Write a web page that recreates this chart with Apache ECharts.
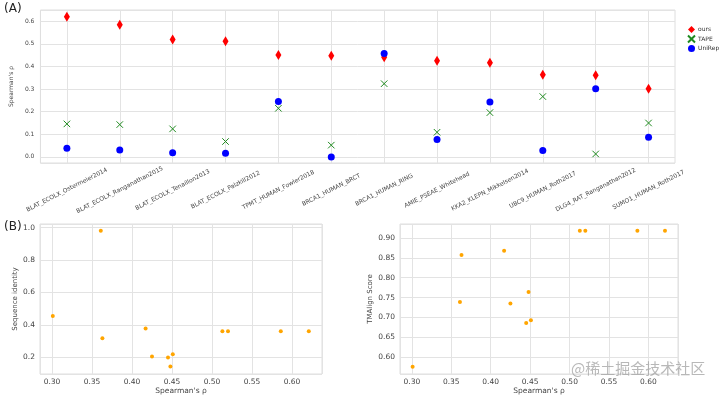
<!DOCTYPE html>
<html><head><meta charset="utf-8">
<script src="https://cdn.jsdelivr.net/npm/echarts@6/dist/echarts.min.js"></script>
<style>html,body{margin:0;padding:0;background:#fff}#c{width:720px;height:396px}</style>
</head><body><div id="c"></div>
<script>
const categories = ['BLAT_ECOLX_Ostermeier2014','BLAT_ECOLX_Ranganathan2015','BLAT_ECOLX_Tenaillon2013','BLAT_ECOLX_Palzkill2012','TPMT_HUMAN_Fowler2018','BRCA1_HUMAN_BRCT','BRCA1_HUMAN_RING','AMIE_PSEAE_Whitehead','KKA2_KLEPN_Mikkelsen2014','UBC9_HUMAN_Roth2017','DLG4_RAT_Ranganathan2012','SUMO1_HUMAN_Roth2017'];
const ours   = [0.620,0.585,0.520,0.512,0.451,0.448,0.441,0.425,0.417,0.363,0.361,0.301];
const tape   = [0.146,0.143,0.124,0.068,0.215,0.052,0.324,0.109,0.196,0.267,0.013,0.150];
const unirep = [0.038,0.031,0.018,0.016,0.245,0.000,0.457,0.077,0.243,0.028,0.301,0.087];
const spearman    = [0.301,0.361,0.363,0.417,0.425,0.445,0.448,0.451,0.513,0.520,0.586,0.621];
const seqIdentity = [0.455,0.980,0.318,0.379,0.206,0.200,0.144,0.220,0.361,0.361,0.361,0.361];
const tmScore     = [0.576,0.739,0.857,0.868,0.735,0.686,0.764,0.693,0.918,0.918,0.918,0.918];

const gridLine = {show:true, lineStyle:{color:'#e3e3e3', width:1}};
const lblColor = '#444';
const pair = (xs, ys) => xs.map((x,i)=>[x, ys[i]]);

const chart = echarts.init(document.getElementById('c'), null, {renderer:'canvas'});
chart.setOption({
  animation:false,
  backgroundColor:'#fff',
  graphic:[
    {type:'text', left:4, top:3, style:{text:'(A)', fontSize:12, fill:'#222', fontFamily:'DejaVu Sans'}},
    {type:'text', left:4, top:221, style:{text:'(B)', fontSize:12, fill:'#222', fontFamily:'DejaVu Sans'}},
    {type:'text', left:571, top:361, z:100, style:{text:'@稀土掘金技术社区', fontSize:15, fill:'rgba(160,160,160,0.75)', fontFamily:'Noto Sans CJK SC'}}
  ],
  legend:{
    left:682, top:21, orient:'vertical', itemGap:1.5, itemWidth:7, itemHeight:7,
    textStyle:{fontSize:6, color:'#333', fontFamily:'DejaVu Sans', padding:[0,0,0,-2]},
    data:['ours','TAPE','UniRep']
  },
  grid:[
    {left:38, top:10, width:637, height:153, show:true, borderColor:'#dedede', borderWidth:1},
    {left:40, top:224, width:282, height:154, show:true, borderColor:'#dedede', borderWidth:1},
    {left:400, top:224, width:278, height:154, show:true, borderColor:'#dedede', borderWidth:1}
  ],
  xAxis:[
    {type:'category', gridIndex:0, data:categories, boundaryGap:true,
     axisLine:{show:false}, axisTick:{show:false},
     splitLine:{show:true, alignWithLabel:true, lineStyle:{color:'#e3e3e3'}},
     axisLabel:{rotate:27, align:'center', verticalAlign:'middle', margin:27, interval:0,
       fontSize:6, color:lblColor, fontFamily:'DejaVu Sans'}},
    {type:'value', gridIndex:1, min:0.285, max:0.6375, splitNumber:7,
     axisLine:{show:false}, axisTick:{show:false}, splitLine:gridLine,
     axisLabel:{showMinLabel:false, showMaxLabel:false, fontSize:7.5, color:lblColor, margin:4,
       formatter:v=>v.toFixed(2), fontFamily:'DejaVu Sans'},
     name:"Spearman's ρ", nameLocation:'middle', nameGap:13,
     nameTextStyle:{fontSize:7.5, color:lblColor, fontFamily:'DejaVu Sans'}},
    {type:'value', gridIndex:2, min:0.285, max:0.6375, splitNumber:7,
     axisLine:{show:false}, axisTick:{show:false}, splitLine:gridLine,
     axisLabel:{showMinLabel:false, showMaxLabel:false, fontSize:7.5, color:lblColor, margin:4,
       formatter:v=>v.toFixed(2), fontFamily:'DejaVu Sans'},
     name:"Spearman's ρ", nameLocation:'middle', nameGap:13,
     nameTextStyle:{fontSize:7.5, color:lblColor, fontFamily:'DejaVu Sans'}}
  ],
  yAxis:[
    {type:'value', gridIndex:0, min:-0.027, max:0.65, splitNumber:7,
     axisLine:{show:false}, axisTick:{show:false}, splitLine:gridLine,
     axisLabel:{showMinLabel:false, showMaxLabel:false, fontSize:6, color:lblColor, margin:6,
       formatter:v=>v.toFixed(1), fontFamily:'DejaVu Sans'},
     name:"Spearman's ρ", nameLocation:'middle', nameGap:17,
     nameTextStyle:{fontSize:6, color:lblColor, fontFamily:'DejaVu Sans'}},
    {type:'value', gridIndex:1, min:0.098, max:1.022, splitNumber:5,
     axisLine:{show:false}, axisTick:{show:false}, splitLine:gridLine,
     axisLabel:{showMinLabel:false, showMaxLabel:false, fontSize:7.5, color:lblColor, margin:5,
       formatter:v=>v.toFixed(1), fontFamily:'DejaVu Sans'},
     name:'Sequence identity', nameLocation:'middle', nameGap:21,
     nameTextStyle:{fontSize:7, color:lblColor, fontFamily:'DejaVu Sans'}},
    {type:'value', gridIndex:2, min:0.558, max:0.935, splitNumber:7,
     axisLine:{show:false}, axisTick:{show:false}, splitLine:gridLine,
     axisLabel:{showMinLabel:false, showMaxLabel:false, fontSize:7.5, color:lblColor, margin:5,
       formatter:v=>v.toFixed(2), fontFamily:'DejaVu Sans'},
     name:'TMAlign Score', nameLocation:'middle', nameGap:26,
     nameTextStyle:{fontSize:7, color:lblColor, fontFamily:'DejaVu Sans'}}
  ],
  series:[
    {name:'ours', type:'scatter', xAxisIndex:0, yAxisIndex:0, data:ours,
     symbol:'diamond', symbolSize:[6,10], itemStyle:{color:'#ff0000', opacity:1}, z:3},
    {name:'TAPE', type:'scatter', xAxisIndex:0, yAxisIndex:0, data:tape,
     symbol:'path://M0,0L10,10M10,0L0,10', symbolSize:6.5,
     itemStyle:{color:'rgba(0,0,0,0)', borderColor:'#1f8a1f', borderWidth:1, opacity:1}, z:4},
    {name:'UniRep', type:'scatter', xAxisIndex:0, yAxisIndex:0, data:unirep,
     symbol:'circle', symbolSize:7, itemStyle:{color:'#0000ff', opacity:1}, z:5},
    {type:'scatter', xAxisIndex:1, yAxisIndex:1, data:pair(spearman, seqIdentity),
     symbol:'circle', symbolSize:4, itemStyle:{color:'#ffa500', opacity:1}},
    {type:'scatter', xAxisIndex:2, yAxisIndex:2, data:pair(spearman, tmScore),
     symbol:'circle', symbolSize:4, itemStyle:{color:'#ffa500', opacity:1}}
  ]
});
</script></body></html>
